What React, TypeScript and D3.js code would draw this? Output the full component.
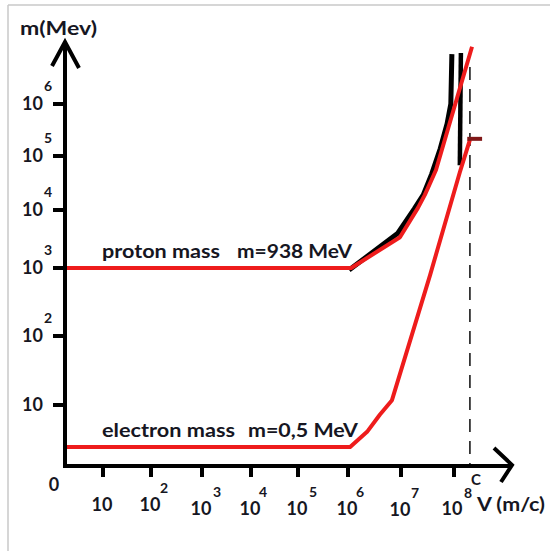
import React from "react";
import * as d3 from "d3";

// ---- data (exponents of 10) ----
const xTickExps = [1, 2, 3, 4, 5, 6, 7, 8];
const yTickExps = [1, 2, 3, 4, 5, 6];

// proton mass curve: [log10 V, log10 m]
const protonX = [0, 6.06, 6.98, 7.32, 7.45, 7.66, 8.34];
const protonY = [3, 3, 3.53, 4.04, 4.28, 4.74, 7.1];

// black (hand-drawn) curve under the proton line
const blackX = [6.02, 6.94, 7.25, 7.42, 7.58, 7.74, 7.87, 7.94, 7.96];
const blackY = [2.97, 3.6, 4.02, 4.28, 4.67, 5.14, 5.62, 6.0, 6.96];
const blackBarX = [8.13, 8.11];
const blackBarY = [6.98, 4.83];

// electron mass curve
const electronX = [0, 6.04, 6.36, 6.6, 6.83, 7.55, 8.11, 8.3];
const electronY = [0.31, 0.31, 0.56, 0.84, 1.07, 2.9, 4.7, 5.31];
const electronCapX = [8.25, 8.53];
const electronCapY = [5.33, 5.33];

const lightSpeedExp = 8.3;

const labels = {
  yTitle: "m(Mev)",
  xTitle: "V (m/c)",
  c: "C",
  proton: "proton mass",
  protonM: "m=938 MeV",
  electron: "electron mass",
  electronM: "m=0,5 MeV",
};

// ---- layout ----
const W = 551;
const H = 551;
const xDomain = [0, 1, 2, 3, 4, 5, 6, 7, 8];
const xRange = [65, 103, 151, 202, 251, 298, 348, 401, 454];
const yDomain = [0, 1, 2, 3, 4, 5, 6];
const yRange = [466, 405, 336, 268, 210, 156, 104];
const xLabelDy = [-4, -4, 0, 0, 0, 0, 1, 0];
const xLabelDx = [-1, -1, -1, -1, -1, -1, -1, -2];
const xSupDx = [13, 13, 15, 12, 15, 12, 14, 14];
const xSupDy = [0, 0, 0, 0, 0, 0, 0, 1];

const FONT = "Lato, 'Open Sans', sans-serif";
const TEXT = "#161622";
const RED = "#ee1c1c";

export default function App() {
  const x = d3.scaleLinear().domain(xDomain).range(xRange);
  const y = d3.scaleLinear().domain(yDomain).range(yRange);

  const line = d3
    .line<[number, number]>()
    .x((d) => x(d[0]))
    .y((d) => y(d[1]));

  const zip = (a: number[], b: number[]) =>
    a.map((v, i) => [v, b[i]] as [number, number]);

  const x0 = x(0);
  const y0 = y(0);
  const yTop = 42;
  const xEnd = 512;
  const cX = x(lightSpeedExp);

  return (
    <svg
      width={W}
      height={H}
      style={{ position: "absolute", left: 0, top: 0, background: "#fff" }}
      fontFamily={FONT}
      fontWeight="bold"
    >
      {/* frame */}
      <line x1={8} y1={5} x2={550} y2={5} stroke="#c8c8c8" strokeWidth={1.5} />
      <line x1={8} y1={5} x2={8} y2={H} stroke="#c8c8c8" strokeWidth={1.5} />

      {/* c dashed line */}
      <line
        x1={cX}
        x2={cX}
        y1={67}
        y2={y0}
        stroke="#333"
        strokeWidth={1.8}
        strokeDasharray="13 9"
      />

      {/* black curve */}
      <path
        d={line(zip(blackX, blackY)) || ""}
        fill="none"
        stroke="#000"
        strokeWidth={5}
        strokeLinejoin="miter"
      />
      <path
        d={line(zip(blackBarX, blackBarY)) || ""}
        fill="none"
        stroke="#000"
        strokeWidth={4.5}
      />

      {/* red curves */}
      <path
        d={line(zip(protonX, protonY)) || ""}
        fill="none"
        stroke={RED}
        strokeWidth={4}
        strokeLinejoin="round"
      />
      <path
        d={line(zip(electronX, electronY)) || ""}
        fill="none"
        stroke={RED}
        strokeWidth={4}
        strokeLinejoin="round"
      />
      <path
        d={line(zip(electronCapX, electronCapY)) || ""}
        fill="none"
        stroke="#801818"
        strokeWidth={4}
      />

      {/* axes */}
      <line x1={x0} x2={x0} y1={yTop} y2={y0 + 2} stroke="#000" strokeWidth={4} />
      <line x1={x0 - 2} x2={xEnd} y1={y0} y2={y0} stroke="#000" strokeWidth={4} />
      <polyline
        points={`${x0 - 13},66 ${x0},${yTop} ${x0 + 14},68`}
        fill="none"
        stroke="#000"
        strokeWidth={4}
      />
      <polyline
        points={`494,448 ${xEnd},${y0 - 1} 501,482`}
        fill="none"
        stroke="#000"
        strokeWidth={4}
      />

      {/* y ticks */}
      {yTickExps.map((e) => (
        <g key={"y" + e}>
          <line x1={x0 - 12} x2={x0} y1={y(e)} y2={y(e)} stroke="#000" strokeWidth={4} />
          <text x={43} y={y(e) + 6} textAnchor="end" fontSize={18} fill={TEXT}>
            10
          </text>
          {e > 1 && (
            <text x={48} y={y(e) - 13} textAnchor="middle" fontSize={14} fill={TEXT}>
              {e}
            </text>
          )}
        </g>
      ))}

      {/* x ticks */}
      {xTickExps.map((e, i) => (
        <g key={"x" + e}>
          <line x1={x(e)} x2={x(e)} y1={y0} y2={y0 + 11} stroke="#000" strokeWidth={4} />
          <text
            x={x(e) + xLabelDx[i]}
            y={515 + xLabelDy[i]}
            textAnchor="middle"
            fontSize={18}
            fill={TEXT}
          >
            10
          </text>
          {e > 1 && (
            <text
              x={x(e) + xSupDx[i]}
              y={497 + xLabelDy[i] + xSupDy[i]}
              textAnchor="middle"
              fontSize={14}
              fill={TEXT}
            >
              {e}
            </text>
          )}
        </g>
      ))}

      {/* origin */}
      <text x={54} y={491} textAnchor="middle" fontSize={18} fill={TEXT}>
        0
      </text>

      {/* titles */}
      <text x={20} y={35} fontSize={18} fill={TEXT} textLength={77} lengthAdjust="spacingAndGlyphs">
        {labels.yTitle}
      </text>
      <text x={477} y={511} fontSize={18} fill={TEXT} textLength={68} lengthAdjust="spacingAndGlyphs">
        {labels.xTitle}
      </text>
      <text x={476} y={485} textAnchor="middle" fontSize={15} fill={TEXT}>
        {labels.c}
      </text>

      {/* curve labels */}
      <text x={102} y={258} fontSize={18} fill={TEXT} textLength={118} lengthAdjust="spacingAndGlyphs">
        {labels.proton}
      </text>
      <text x={237} y={258} fontSize={18} fill={TEXT} textLength={115} lengthAdjust="spacingAndGlyphs">
        {labels.protonM}
      </text>
      <text x={102} y={437} fontSize={18} fill={TEXT} textLength={133} lengthAdjust="spacingAndGlyphs">
        {labels.electron}
      </text>
      <text x={248} y={437} fontSize={18} fill={TEXT} textLength={110} lengthAdjust="spacingAndGlyphs">
        {labels.electronM}
      </text>
    </svg>
  );
}
